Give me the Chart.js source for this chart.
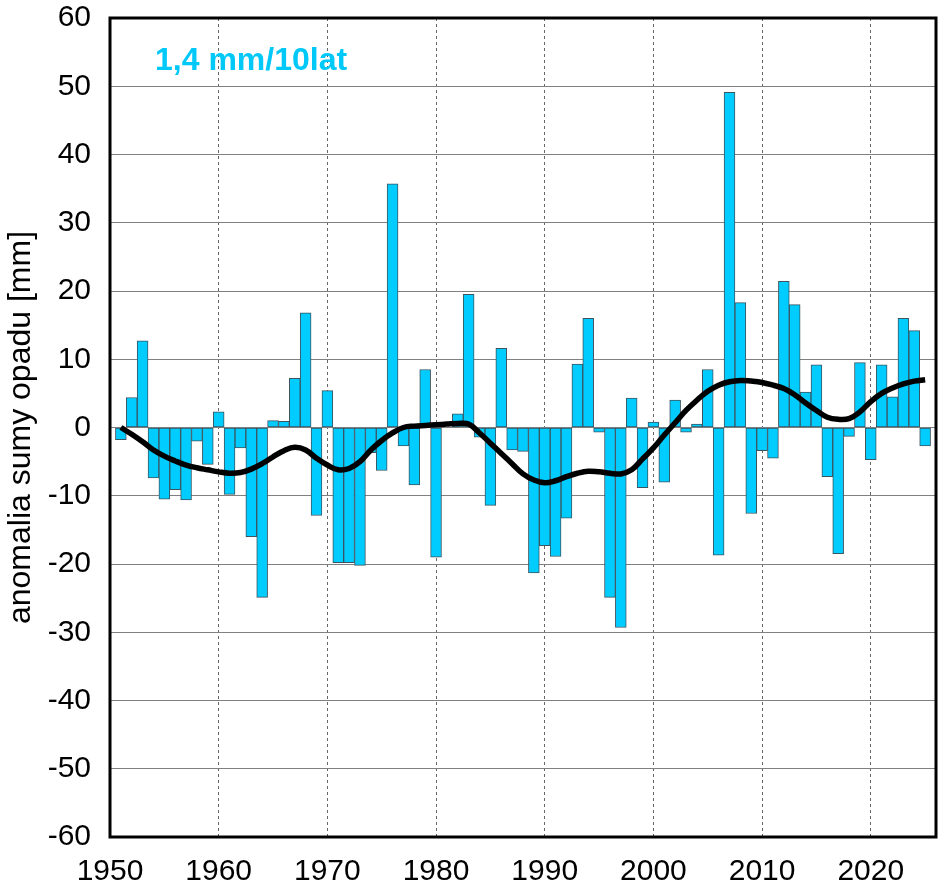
<!DOCTYPE html>
<html lang="pl">
<head>
<meta charset="utf-8">
<script src="https://cdn.jsdelivr.net/npm/chart.js@4.4.1/dist/chart.umd.min.js"></script>
<style>
  html, body { margin: 0; padding: 0; background: #fff; }
  #wrap { width: 945px; height: 891px; }
</style>
</head>
<body>
<div id="wrap"><canvas id="chart" width="945" height="891"></canvas></div>
<script>
const years = Array.from({ length: 75 }, (_, i) => 1951 + i);

// anomalia sumy opadu [mm], 1951-2025
const anomaly = [
  -1.8, 4.4, 12.7, -7.4, -10.5, -9.1, -10.6, -2.0, -5.4, 2.3,
  -9.8, -3.0, -16.0, -24.9, 1.0, 0.9, 7.2, 16.8, -12.9, 5.4,
  -19.8, -19.8, -20.2, -3.7, -6.3, 35.7, -2.7, -8.4, 8.5, -19.0,
  0.0, 2.0, 19.5, -1.4, -11.4, 11.6, -3.3, -3.5, -21.3, -17.3,
  -18.9, -13.3, 9.3, 16.0, -0.7, -24.9, -29.3, 4.3, -8.8, 0.8,
  -8.0, 4.0, -0.7, 0.5, 8.5, -18.7, 49.1, 18.3, -12.6, -3.4,
  -4.5, 21.4, 18.0, 5.2, 9.2, -7.2, -18.5, -1.3, 9.5, -4.7,
  9.2, 4.5, 16.0, 14.2, -2.7
];

// wygładzona krzywa
const smooth = [
  0.0, -1.0, -2.1, -3.3, -4.2, -4.9, -5.5, -5.9, -6.2, -6.5,
  -6.7, -6.6, -6.1, -5.3, -4.3, -3.4, -2.9, -3.3, -4.5, -5.5,
  -6.2, -6.0, -5.0, -3.3, -1.9, -0.8, 0.0, 0.2, 0.3, 0.4,
  0.5, 0.6, 0.5, -0.8, -2.3, -3.8, -5.3, -6.8, -7.7, -8.1,
  -7.8, -7.2, -6.7, -6.4, -6.5, -6.7, -6.8, -6.2, -4.6, -3.0,
  -1.1, 0.7, 2.5, 4.0, 5.3, 6.2, 6.7, 6.9, 6.8, 6.6,
  6.2, 5.7, 4.8, 3.6, 2.5, 1.5, 1.2, 1.3, 2.3, 3.8,
  5.0, 5.8, 6.4, 6.8, 7.0
];

const xTicks = [1950, 1960, 1970, 1980, 1990, 2000, 2010, 2020];
const yTicks = [-60, -50, -40, -30, -20, -10, 0, 10, 20, 30, 40, 50, 60];
const trendLabel = "1,4 mm/10lat";

const FONT = "'Liberation Sans', Arial, sans-serif";

// ramka wykresu + opis trendu
const framePlugin = {
  id: "frame",
  afterDatasetsDraw(chart) {
    const { ctx, chartArea: a } = chart;
    ctx.save();
    ctx.lineWidth = 3;
    ctx.strokeStyle = "#000";
    ctx.strokeRect(a.left, a.top, a.right - a.left, a.bottom - a.top);
    ctx.font = "bold 32px " + FONT;
    ctx.fillStyle = "#00C8F8";
    ctx.textBaseline = "middle";
    ctx.textAlign = "left";
    ctx.fillText(trendLabel, a.left + 45, a.top + 43);
    ctx.restore();
  }
};

const ctx = document.getElementById("chart").getContext("2d");
new Chart(ctx, {
  type: "bar",
  data: {
    datasets: [
      {
        type: "line",
        data: years.map((y, i) => ({ x: y, y: smooth[i] })),
        borderColor: "#000",
        borderWidth: 5.5,
        pointRadius: 0,
        tension: 0.4,
        order: 0
      },
      {
        type: "bar",
        data: years.map((y, i) => ({ x: y, y: anomaly[i] })),
        backgroundColor: "#00CCFF",
        borderColor: "#3b5560",
        borderWidth: 1,
        borderSkipped: false,
        categoryPercentage: 1.0,
        barPercentage: 1.0,
        order: 1
      }
    ]
  },
  plugins: [framePlugin],
  options: {
    responsive: false,
    animation: false,
    events: [],
    layout: { padding: { left: 0, right: 9, top: 18, bottom: 0 } },
    plugins: {
      legend: { display: false },
      tooltip: { enabled: false }
    },
    scales: {
      x: {
        type: "linear",
        min: 1950,
        max: 2026,
        offset: false,
        afterFit: (s) => { s.height = 54; },
        afterBuildTicks: (s) => { s.ticks = xTicks.map((v) => ({ value: v })); },
        ticks: {
          color: "#000",
          font: { family: FONT, size: 30 },
          padding: 17,
          maxRotation: 0,
          autoSkip: false,
          callback: (v) => String(v)
        },
        grid: {
          offset: false,
          drawTicks: false,
          color: "#666",
          lineWidth: 1
        },
        border: { display: false, dash: [3, 3] }
      },
      y: {
        min: -60,
        max: 60,
        afterFit: (s) => {
          s.width = 110;
          s.paddingTop = 0;
          s.paddingBottom = 0;
        },
        afterBuildTicks: (s) => { s.ticks = yTicks.map((v) => ({ value: v })); },
        ticks: {
          color: "#000",
          font: { family: FONT, size: 30 },
          padding: 19
        },
        grid: {
          drawTicks: false,
          color: "#808080",
          lineWidth: 1
        },
        border: { display: false },
        title: {
          display: true,
          text: "anomalia sumy opadu [mm]",
          color: "#000",
          font: { family: FONT, size: 32 },
          padding: { top: 2, bottom: 0 }
        }
      }
    }
  }
});
</script>
</body>
</html>
